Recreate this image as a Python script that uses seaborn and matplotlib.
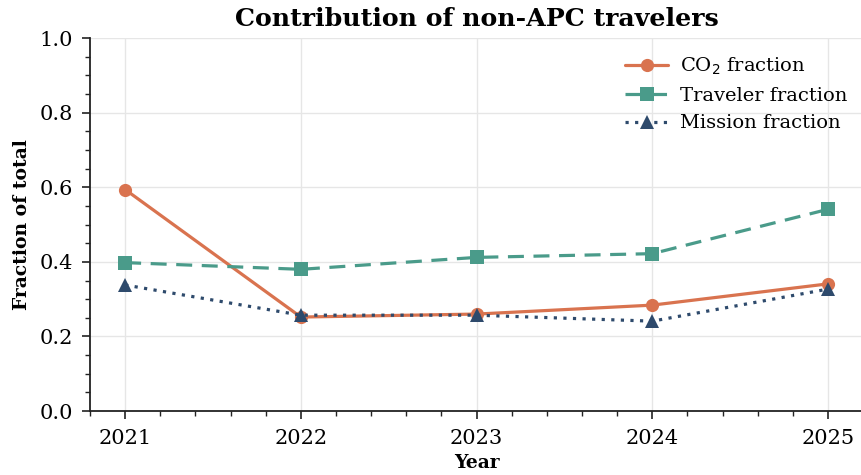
import matplotlib
matplotlib.use("Agg")
import matplotlib.pyplot as plt
import seaborn as sns
import pandas as pd
from matplotlib.ticker import MultipleLocator

years = [2021, 2022, 2023, 2024, 2025]
co2_fraction = [0.594, 0.252, 0.260, 0.284, 0.341]
traveler_fraction = [0.398, 0.380, 0.412, 0.422, 0.541]
mission_fraction = [0.338, 0.257, 0.257, 0.241, 0.327]
series_labels = ["CO$_2$ fraction", "Traveler fraction", "Mission fraction"]

sns.set_theme(style="ticks")
plt.rcParams['font.family'] = ['DejaVu Serif']
plt.rcParams['text.color'] = 'black'
plt.rcParams['axes.labelcolor'] = 'black'
plt.rcParams['xtick.color'] = 'black'
plt.rcParams['ytick.color'] = 'black'

colors = ["#d9734f", "#4a9b8a", "#2e4a6c"]
markers = ["o", "s", "^"]
styles = ["-", (0, (5, 3)), (0, (1, 2))]

fig = plt.figure(figsize=(8.62, 4.75), dpi=100)
ax = fig.add_axes([0.1044, 0.1347, 0.897, 0.785])

for vals, lab, c, m, ls in zip([co2_fraction, traveler_fraction, mission_fraction],
                               series_labels, colors, markers, styles):
    df = pd.DataFrame({"Year": years, "v": vals})
    sns.lineplot(data=df, x="Year", y="v", ax=ax, color=c, marker=m, markersize=9.5,
                 linestyle=ls, linewidth=2.3, markeredgewidth=0, label=lab)

ax.set_xlim(2020.8, 2025.2)
ax.set_ylim(0, 1.0)
ax.set_xticks(years)
ax.set_xticklabels([str(y) for y in years])
ax.xaxis.set_minor_locator(MultipleLocator(0.2))
ax.yaxis.set_major_locator(MultipleLocator(0.2))
ax.yaxis.set_minor_locator(MultipleLocator(0.05))
ax.tick_params(axis="both", which="major", labelsize=15, length=6, width=1.2, color="#222222")
ax.tick_params(axis="x", which="major", pad=7)
ax.tick_params(axis="y", which="major", pad=6)
ax.tick_params(axis="both", which="minor", length=3.5, width=1.0, color="#222222")
ax.grid(True, which="major", color="#e6e6e6", linewidth=1.0)
ax.set_axisbelow(True)
for s in ["top", "right"]:
    ax.spines[s].set_visible(False)
for s in ["left", "bottom"]:
    ax.spines[s].set_color("#222222")
    ax.spines[s].set_linewidth(1.3)

ax.set_xlabel("Year", fontsize=13.5, fontweight="bold", labelpad=4)
ax.set_ylabel("Fraction of total", fontsize=13.5, fontweight="bold", labelpad=6)
ax.set_title("Contribution of non-APC travelers", fontsize=18.2, fontweight="bold", pad=9)

leg = ax.legend(loc="upper right", frameon=False, fontsize=14, handlelength=2.2,
                bbox_to_anchor=(1.002, 1.0), labelspacing=0.5, handletextpad=0.6)

fig.savefig("out.png", dpi=100)
